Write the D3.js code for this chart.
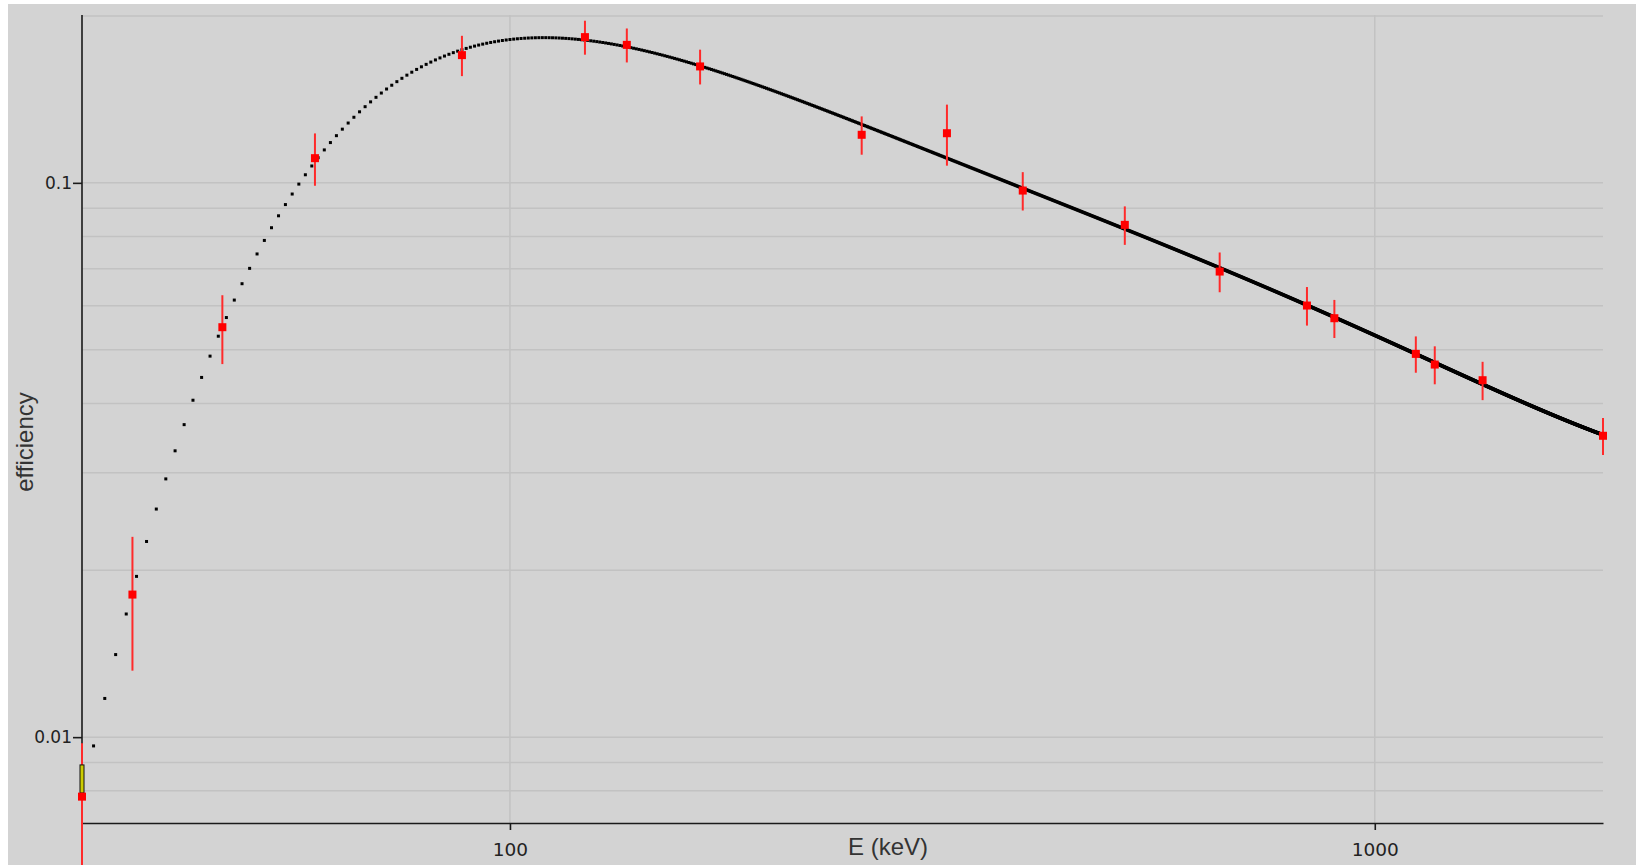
<!DOCTYPE html>
<html><head><meta charset="utf-8">
<script src="https://cdn.jsdelivr.net/npm/d3@7"></script>
<style>
  html,body{margin:0;padding:0;background:#ffffff;}
  svg{display:block;}
</style>
</head><body>
<svg id="chart" width="1644" height="865"></svg>
<script>
// Calibration peaks: energy (keV), measured efficiency, 1-sigma uncertainty
const energies     = [32.0, 36.6, 46.5, 59.5, 88.0, 122.1, 136.5, 165.9, 255.1, 320.1, 391.7, 514.0, 661.7, 834.8, 898.0, 1115.5, 1173.2, 1332.5, 1836.1];
const efficiencies = [0.00781, 0.01808, 0.0549, 0.1108, 0.1700, 0.1832, 0.1774, 0.1622, 0.1221, 0.1229, 0.09685, 0.08399, 0.06918, 0.06007, 0.05699, 0.04914, 0.04701, 0.04405, 0.03497];
const errors       = [0.00194, 0.0049, 0.0078, 0.0120, 0.0142, 0.0129, 0.0125, 0.0117, 0.0097, 0.0155, 0.0077, 0.0067, 0.0057, 0.0048, 0.0045, 0.0037, 0.0037, 0.0035, 0.0027];

// Axis ticks and grid
const xTickValues = [100, 1000];
const yTickValues = [0.01, 0.1];
const yGridValues = [0.008, 0.009, 0.01, 0.02, 0.03, 0.04, 0.05, 0.06, 0.07, 0.08, 0.09, 0.1, 0.2];
const yDomain = [0.007, 0.2];

// Highlighted efficiency band at the lowest energy
const cursorSpan = [0.00793, 0.00891];

// Efficiency fit: ln(eff) as a weighted polynomial in ln(E / fitRefEnergy)
const fitOrder = 5;
const fitRefEnergy = 300;
const fitStepKeV = 1;

const svg = d3.select("#chart");
const W = 1644, H = 865;
const plot = {left: 82, right: 1603, top: 16, bottom: 823};

svg.append("rect").attr("x", 8).attr("y", 4).attr("width", W - 16).attr("height", H - 4).attr("fill", "#d3d3d3");

const x = d3.scaleLog().domain([energies[0], energies[energies.length - 1]]).range([plot.left, plot.right]);
const y = d3.scaleLog().domain(yDomain).range([plot.bottom, plot.top]);

// grid
const grid = svg.append("g").attr("stroke", "#c2c2c2").attr("stroke-width", 1.5);
grid.selectAll("line.h").data(yGridValues).join("line").attr("class", "h")
  .attr("x1", plot.left).attr("x2", plot.right).attr("y1", d => y(d)).attr("y2", d => y(d));
grid.selectAll("line.v").data(xTickValues).join("line").attr("class", "v")
  .attr("x1", d => x(d)).attr("x2", d => x(d)).attr("y1", plot.top - 1).attr("y2", plot.bottom);

// axes
const xAxis = d3.axisBottom(x).tickValues(xTickValues).tickFormat(d3.format("d")).tickSize(7).tickSizeOuter(0).tickPadding(13);
const yAxis = d3.axisLeft(y).tickValues(yTickValues).tickFormat(d => String(d)).tickSize(9).tickSizeOuter(0).tickPadding(1);

const gx = svg.append("g").attr("transform", `translate(0,${plot.bottom})`).call(xAxis);
gx.selectAll("text").attr("font-family", "DejaVu Sans").attr("font-size", 18.5).attr("fill", "#222");
const gy = svg.append("g").attr("transform", `translate(${plot.left},0)`).call(yAxis);
gy.selectAll("text").attr("font-family", "DejaVu Sans").attr("font-size", 17).attr("fill", "#222");
svg.selectAll(".domain, .tick line").attr("stroke", "#1a1a1a").attr("stroke-width", 1.6);
gy.select(".domain").attr("d", `M0,${plot.bottom}V${plot.top - 1}`);

svg.append("text").attr("x", 888).attr("y", 855).attr("text-anchor", "middle")
  .attr("font-family", "Liberation Sans").attr("font-size", 24).attr("fill", "#333").text("E (keV)");
svg.append("text").attr("transform", "translate(33,442) rotate(-90)").attr("text-anchor", "middle")
  .attr("font-family", "Liberation Sans").attr("font-size", 24).attr("fill", "#333").text("efficiency");

// weighted least squares on the calibration points
function polyFit(ts, vs, ws, order) {
  const n = order + 1;
  const A = Array.from({length: n}, () => new Array(n + 1).fill(0));
  ts.forEach((t, i) => {
    const p = d3.range(n).map(k => Math.pow(t, k));
    for (let r = 0; r < n; r++) {
      for (let c = 0; c < n; c++) A[r][c] += ws[i] * p[r] * p[c];
      A[r][n] += ws[i] * p[r] * vs[i];
    }
  });
  for (let col = 0; col < n; col++) {
    let piv = col;
    for (let r = col + 1; r < n; r++) if (Math.abs(A[r][col]) > Math.abs(A[piv][col])) piv = r;
    [A[col], A[piv]] = [A[piv], A[col]];
    for (let r = 0; r < n; r++) {
      if (r === col) continue;
      const f = A[r][col] / A[col][col];
      for (let c = col; c <= n; c++) A[r][c] -= f * A[col][c];
    }
  }
  return A.map((row, i) => row[n] / row[i]);
}
const ts = energies.map(e => Math.log(e / fitRefEnergy));
const vs = efficiencies.map(v => Math.log(v));
const ws = efficiencies.map((v, i) => (v / errors[i]) ** 2);
const coef = polyFit(ts, vs, ws, fitOrder);
const fit = e => {
  const t = Math.log(e / fitRefEnergy);
  return Math.exp(coef.reduce((s, c, k) => s + c * Math.pow(t, k), 0));
};

// fitted curve, sampled every keV
const curveE = d3.range(Math.ceil(energies[0]), energies[energies.length - 1] + 1e-9, fitStepKeV);
svg.append("g").attr("fill", "#000").selectAll("rect").data(curveE).join("rect")
  .attr("x", e => x(e) - 1.5).attr("y", e => y(fit(e)) - 1.5).attr("width", 3).attr("height", 3);

// error bars
const pts = energies.map((e, i) => ({e, v: efficiencies[i], s: errors[i]}));
svg.append("g").attr("stroke", "#ff2a2a").attr("stroke-width", 2).selectAll("line").data(pts).join("line")
  .attr("x1", d => x(d.e)).attr("x2", d => x(d.e))
  .attr("y1", d => y(d.v + d.s)).attr("y2", d => y(d.v - d.s));

// highlighted band
svg.append("rect").attr("x", x(energies[0]) - 2).attr("width", 4)
  .attr("y", y(cursorSpan[1])).attr("height", y(cursorSpan[0]) - y(cursorSpan[1]))
  .attr("fill", "#cccc00").attr("stroke", "#111").attr("stroke-width", 1);

// measured points
svg.append("g").attr("fill", "#ff0000").selectAll("rect").data(pts).join("rect")
  .attr("x", d => x(d.e) - 4).attr("y", d => y(d.v) - 4).attr("width", 8).attr("height", 8);
</script>
</body></html>
